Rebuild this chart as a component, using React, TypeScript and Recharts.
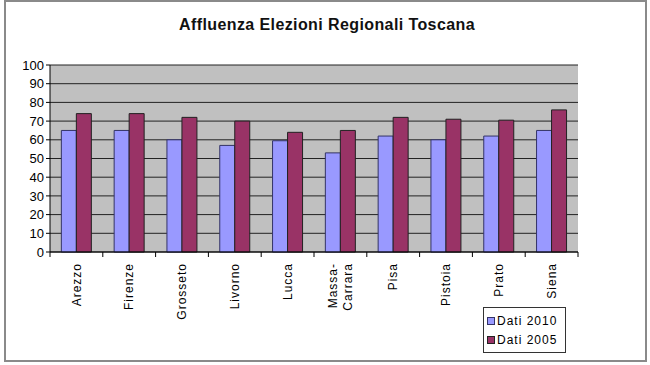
import React from "react"
import { Bar, BarChart, CartesianGrid, Legend, XAxis, YAxis } from "recharts"

const provinces = [
  "Arezzo",
  "Firenze",
  "Grosseto",
  "Livorno",
  "Lucca",
  "Massa-Carrara",
  "Pisa",
  "Pistoia",
  "Prato",
  "Siena",
]
const dati2010 = [65, 65, 60, 57, 59.5, 53, 62, 60, 62, 65]
const dati2005 = [74, 74, 72, 70, 64, 65, 72, 71, 70.5, 76]
const yTicks = [0, 10, 20, 30, 40, 50, 60, 70, 80, 90, 100]

const data = provinces.map((name, i) => ({
  name,
  d2010: dati2010[i],
  d2005: dati2005[i],
}))

const FONT = "'Liberation Sans', Arial, sans-serif"
const BLUE = "#9999ff"
const WINE = "#993366"

// plot box: 50..578 x, 65..252 y
const PLOT_W = 528
const BAND = PLOT_W / provinces.length

function XTick(props: any) {
  const { x, y, payload, index } = props
  const ty = y + 11
  const label: string = payload.value
  const lines = label.includes("-") ? [label.split("-")[0] + "-", label.split("-")[1]] : [label]
  return (
    <g>
      <line x1={x - BAND / 2} x2={x - BAND / 2} y1={y} y2={y + 5} stroke="#000" />
      {index === provinces.length - 1 && (
        <line x1={x + BAND / 2} x2={x + BAND / 2} y1={y} y2={y + 5} stroke="#000" />
      )}
      <text
        transform={`rotate(-90, ${x}, ${ty})`}
        x={x}
        y={ty}
        textAnchor="end"
        fontSize={12}
        letterSpacing={1}
        fill="#000"
        fontFamily={FONT}
      >
        {lines.length === 1 ? (
          <tspan x={x} dy="0.35em">{lines[0]}</tspan>
        ) : (
          <>
            <tspan x={x} dy="-0.3em">{lines[0]}</tspan>
            <tspan x={x} dy="1.3em">{lines[1]}</tspan>
          </>
        )}
      </text>
    </g>
  )
}

function LegendBox() {
  const items = [
    { label: "Dati 2010", color: BLUE, stroke: "#333366" },
    { label: "Dati 2005", color: WINE, stroke: "#222" },
  ]
  return (
    <div
      style={{
        border: "1px solid #333",
        background: "#fff",
        width: 78,
        padding: "3px 0 3px 3px",
        fontFamily: FONT,
        fontSize: 12,
        letterSpacing: 1,
      }}
    >
      {items.map((it) => (
        <div key={it.label} style={{ display: "flex", alignItems: "center", height: 19 }}>
          <span
            style={{
              display: "inline-block",
              width: 6,
              height: 6,
              background: it.color,
              border: `1px solid ${it.stroke}`,
              marginRight: 2,
            }}
          />
          {it.label}
        </div>
      ))}
    </div>
  )
}

export default function App() {
  return (
    <div style={{ position: "absolute", left: 0, top: 0, width: 650, height: 365, background: "#fff", fontFamily: FONT }}>
      <div
        style={{
          position: "absolute",
          left: 4,
          top: 0,
          width: 639,
          height: 358,
          border: "2px solid #8a8a8a",
        }}
      />
      <div
        style={{
          position: "absolute",
          left: 0,
          width: 654,
          top: 16,
          textAlign: "center",
          fontWeight: "bold",
          fontSize: 16,
          letterSpacing: 0.4,
          color: "#111",
        }}
      >
        Affluenza Elezioni Regionali Toscana
      </div>
      <BarChart
        width={650}
        height={365}
        data={data}
        margin={{ top: 65, right: 72, bottom: 0, left: 10 }}
        barCategoryGap="21.5%"
        barGap={0}
        style={{ position: "absolute", left: 0, top: 0 }}
      >
        <CartesianGrid vertical={false} stroke="#222" fill="#c0c0c0" fillOpacity={1} />
        <XAxis
          dataKey="name"
          interval={0}
          height={113}
          tickSize={0}
          tickMargin={0}
          tick={<XTick />}
          axisLine={{ stroke: "#000" }}
        />
        <YAxis
          width={40}
          domain={[0, 100]}
          ticks={yTicks}
          interval={0}
          tickSize={4}
          tickMargin={2}
          tick={{ fontSize: 13, fill: "#000", fontFamily: FONT }}
          axisLine={{ stroke: "#000" }}
          tickLine={{ stroke: "#000" }}
        />
        <Legend
          layout="vertical"
          align="center"
          verticalAlign="middle"
          wrapperStyle={{ left: 483, top: 307, width: 84 }}
          content={<LegendBox />}
        />
        <Bar dataKey="d2010" name="Dati 2010" fill={BLUE} stroke="#333366" isAnimationActive={false} />
        <Bar dataKey="d2005" name="Dati 2005" fill={WINE} stroke="#222" isAnimationActive={false} />
      </BarChart>
    </div>
  )
}
